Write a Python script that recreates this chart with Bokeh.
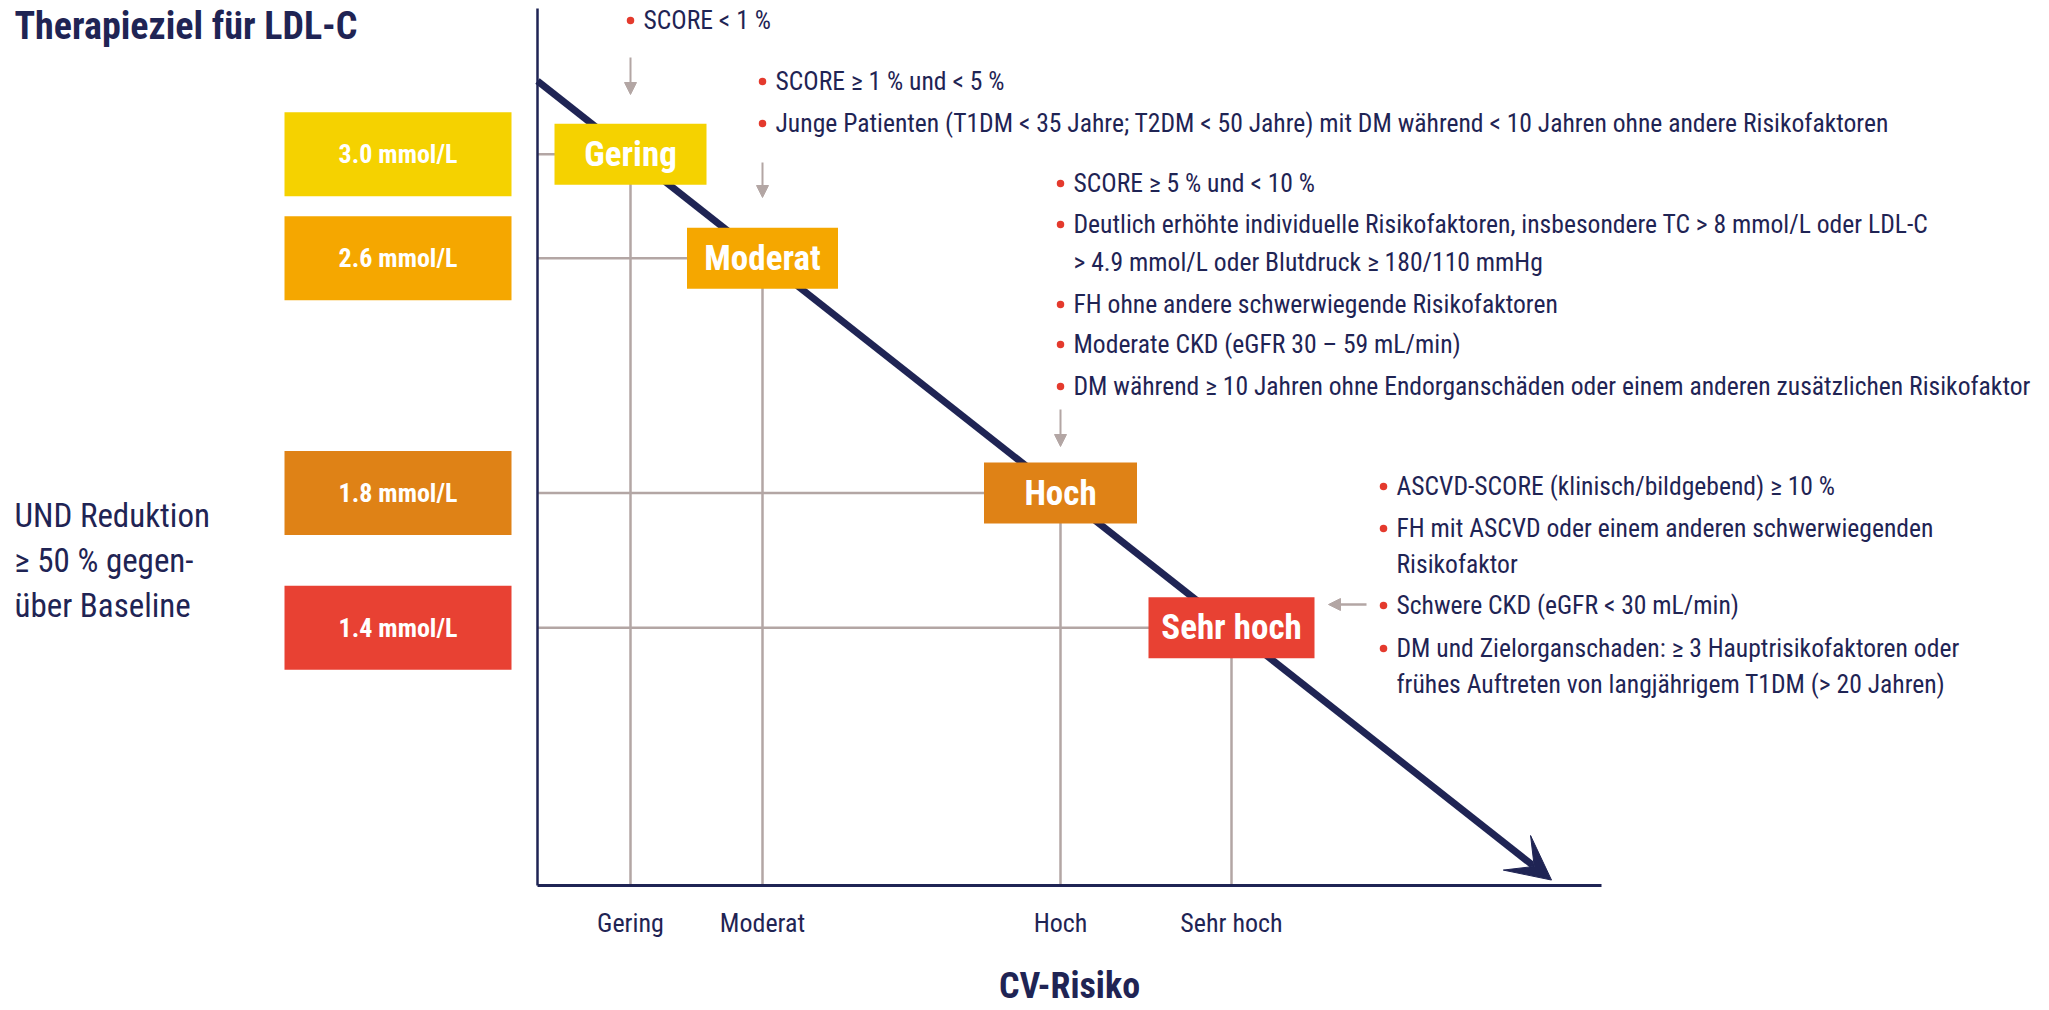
from bokeh.plotting import figure
from bokeh.models import Range1d, Arrow, VeeHead, NormalHead
from bokeh.core.properties import value
from bokeh.embed import file_html
from bokeh.resources import INLINE

# ---------------- data ----------------
stufen = ["Gering", "Moderat", "Hoch", "Sehr hoch"]
# position of each risk class on the CV-risk continuum (arbitrary units)
risiko = [0.93, 2.25, 5.23, 6.94]
ldl_ziel = ["3.0 mmol/L", "2.6 mmol/L", "1.8 mmol/L", "1.4 mmol/L"]
# extent of the risk / LDL-C target trend arrow on the same continuum
trend = [0.0, 10.14]

titel = "Therapieziel für LDL-C"
x_titel = "CV-Risiko"
zusatz = ["UND Reduktion", "≥ 50 % gegen-", "über Baseline"]

krit_gering = ["SCORE < 1 %"]
krit_moderat = [
    "SCORE ≥ 1 % und < 5 %",
    "Junge Patienten (T1DM < 35 Jahre; T2DM < 50 Jahre) mit DM während < 10 Jahren ohne andere Risikofaktoren",
]
krit_hoch = [
    "SCORE ≥ 5 % und < 10 %",
    "Deutlich erhöhte individuelle Risikofaktoren, insbesondere TC > 8 mmol/L oder LDL-C",
    "> 4.9 mmol/L oder Blutdruck ≥ 180/110 mmHg",
    "FH ohne andere schwerwiegende Risikofaktoren",
    "Moderate CKD (eGFR 30 – 59 mL/min)",
    "DM während ≥ 10 Jahren ohne Endorganschäden oder einem anderen zusätzlichen Risikofaktor",
]
krit_sehr_hoch = [
    "ASCVD-SCORE (klinisch/bildgebend) ≥ 10 %",
    "FH mit ASCVD oder einem anderen schwerwiegenden",
    "Risikofaktor",
    "Schwere CKD (eGFR < 30 mL/min)",
    "DM und Zielorganschaden: ≥ 3 Hauptrisikofaktoren oder",
    "frühes Auftreten von langjährigem T1DM (> 20 Jahren)",
]

# ---------------- styles / layout ----------------
NAVY = "#1f2454"
DOT = "#e43a2d"
GRAY = "#b3a6a4"
box_colors = ["#f5d200", "#f5a700", "#df8216", "#e84133"]
COND = "Roboto Condensed, Liberation Sans Narrow, DejaVu Sans Condensed, Roboto"

W, H = 2049, 1010
AX_PX, KX = 537.0, 100.0     # x: pixel of the y-axis, pixels per unit
Y0_PX, KY = 80.5, 78.8       # y: pixel of unit 0, pixels per unit (downwards)


def X(px):
    return (px - AX_PX) / KX


def Y(px):
    return (px - Y0_PX) / KY


p = figure(width=W, height=H, x_range=Range1d(X(0), X(W)), y_range=Range1d(Y(H), Y(0)),
           min_border=0, output_backend="svg", toolbar_location=None,
           x_axis_location=None, y_axis_location=None, outline_line_color=None,
           background_fill_color="white", border_fill_color="white")
p.grid.visible = False

x_axis_y = Y(885)
n = len(stufen)

# trend arrow (underneath the boxes)
p.add_layout(Arrow(x_start=trend[0], y_start=trend[0], x_end=trend[1], y_end=trend[1],
                   line_color=NAVY, line_width=7, level="underlay",
                   end=VeeHead(size=44, fill_color=NAVY, line_color=NAVY, line_width=1)))

# guide lines
p.segment(x0=[trend[0]] * n, y0=risiko, x1=risiko, y1=risiko, line_color=GRAY, line_width=2.5)
p.segment(x0=risiko, y0=risiko, x1=risiko, y1=[x_axis_y] * n, line_color=GRAY, line_width=2.5)

# axes
p.segment(x0=[trend[0]], y0=[Y(8)], x1=[trend[0]], y1=[x_axis_y], line_color=NAVY, line_width=2.5)
p.segment(x0=[trend[0]], y0=[x_axis_y], x1=[X(1601)], y1=[x_axis_y], line_color=NAVY, line_width=3)

# risk boxes on the trend line
p.rect(x=risiko, y=risiko, width=[152, 151, 153, 166], height=61,
       width_units="screen", height_units="screen", fill_color=box_colors, line_color=None)
p.text(x=risiko, y=risiko, text=stufen, text_align="center", text_baseline="middle",
       text_color="white", text_font=value(COND), text_font_style="bold", text_font_size="35px")

# LDL-C target boxes on the left
lx = X(397.5)
p.rect(x=[lx] * n, y=risiko, width=227, height=84, width_units="screen", height_units="screen",
       fill_color=box_colors, line_color=None)
p.text(x=[lx] * n, y=risiko, text=ldl_ziel, text_align="center", text_baseline="middle",
       text_color="white", text_font=value(COND), text_font_style="bold", text_font_size="26px")

# category tick labels + axis title
p.text(x=risiko, y=[Y(922)] * n, text=stufen, text_align="center", text_baseline="middle",
       text_color=NAVY, text_font=value(COND), text_font_size="26px")
p.text(x=[X((537 + 1601) / 2)], y=[Y(985)], text=[x_titel], text_align="center", text_baseline="middle",
       text_color=NAVY, text_font=value(COND), text_font_style="bold", text_font_size="36px")

# title and left note
p.text(x=[X(14)], y=[Y(25)], text=[titel], text_align="left", text_baseline="middle",
       text_color=NAVY, text_font=value(COND), text_font_style="bold", text_font_size="38px")
p.text(x=[X(14)] * 3, y=[Y(v) for v in (515, 560, 605)], text=zusatz, text_align="left",
       text_baseline="middle", text_color=NAVY, text_font=value(COND), text_font_size="33px")


# bullet blocks
def block(bx, lines, ys, bullets):
    tx = bx + X(AX_PX + 13)
    p.text(x=[tx] * len(lines), y=[Y(v) for v in ys], text=lines, text_align="left",
           text_baseline="middle", text_color=NAVY, text_font=value(COND), text_font_size="25.6px")
    bys = [Y(v + 1) for v, b in zip(ys, bullets) if b]
    p.scatter(x=[bx] * len(bys), y=bys, size=7.5, fill_color=DOT, line_color=None)


block(risiko[0], krit_gering, [19], [1])
block(risiko[1], krit_moderat, [80, 122], [1, 1])
block(risiko[2], krit_hoch, [182, 223, 261, 303, 343, 385], [1, 1, 0, 1, 1, 1])
block(X(1383), krit_sehr_hoch, [485, 527, 563, 604, 647, 683], [1, 1, 0, 1, 1, 0])

# small grey pointer arrows
for xr, y0, y1 in ((risiko[0], 57, 94), (risiko[1], 162, 197), (risiko[2], 409, 446)):
    p.add_layout(Arrow(x_start=xr, y_start=Y(y0), x_end=xr, y_end=Y(y1), line_color=GRAY, line_width=2,
                       end=NormalHead(size=12, fill_color=GRAY, line_color=GRAY, line_width=1)))
p.add_layout(Arrow(x_start=X(1366), y_start=Y(604), x_end=X(1328), y_end=Y(604), line_color=GRAY,
                   line_width=2.5, end=NormalHead(size=12, fill_color=GRAY, line_color=GRAY, line_width=1)))

open("out.html", "w").write(file_html(p, INLINE))
